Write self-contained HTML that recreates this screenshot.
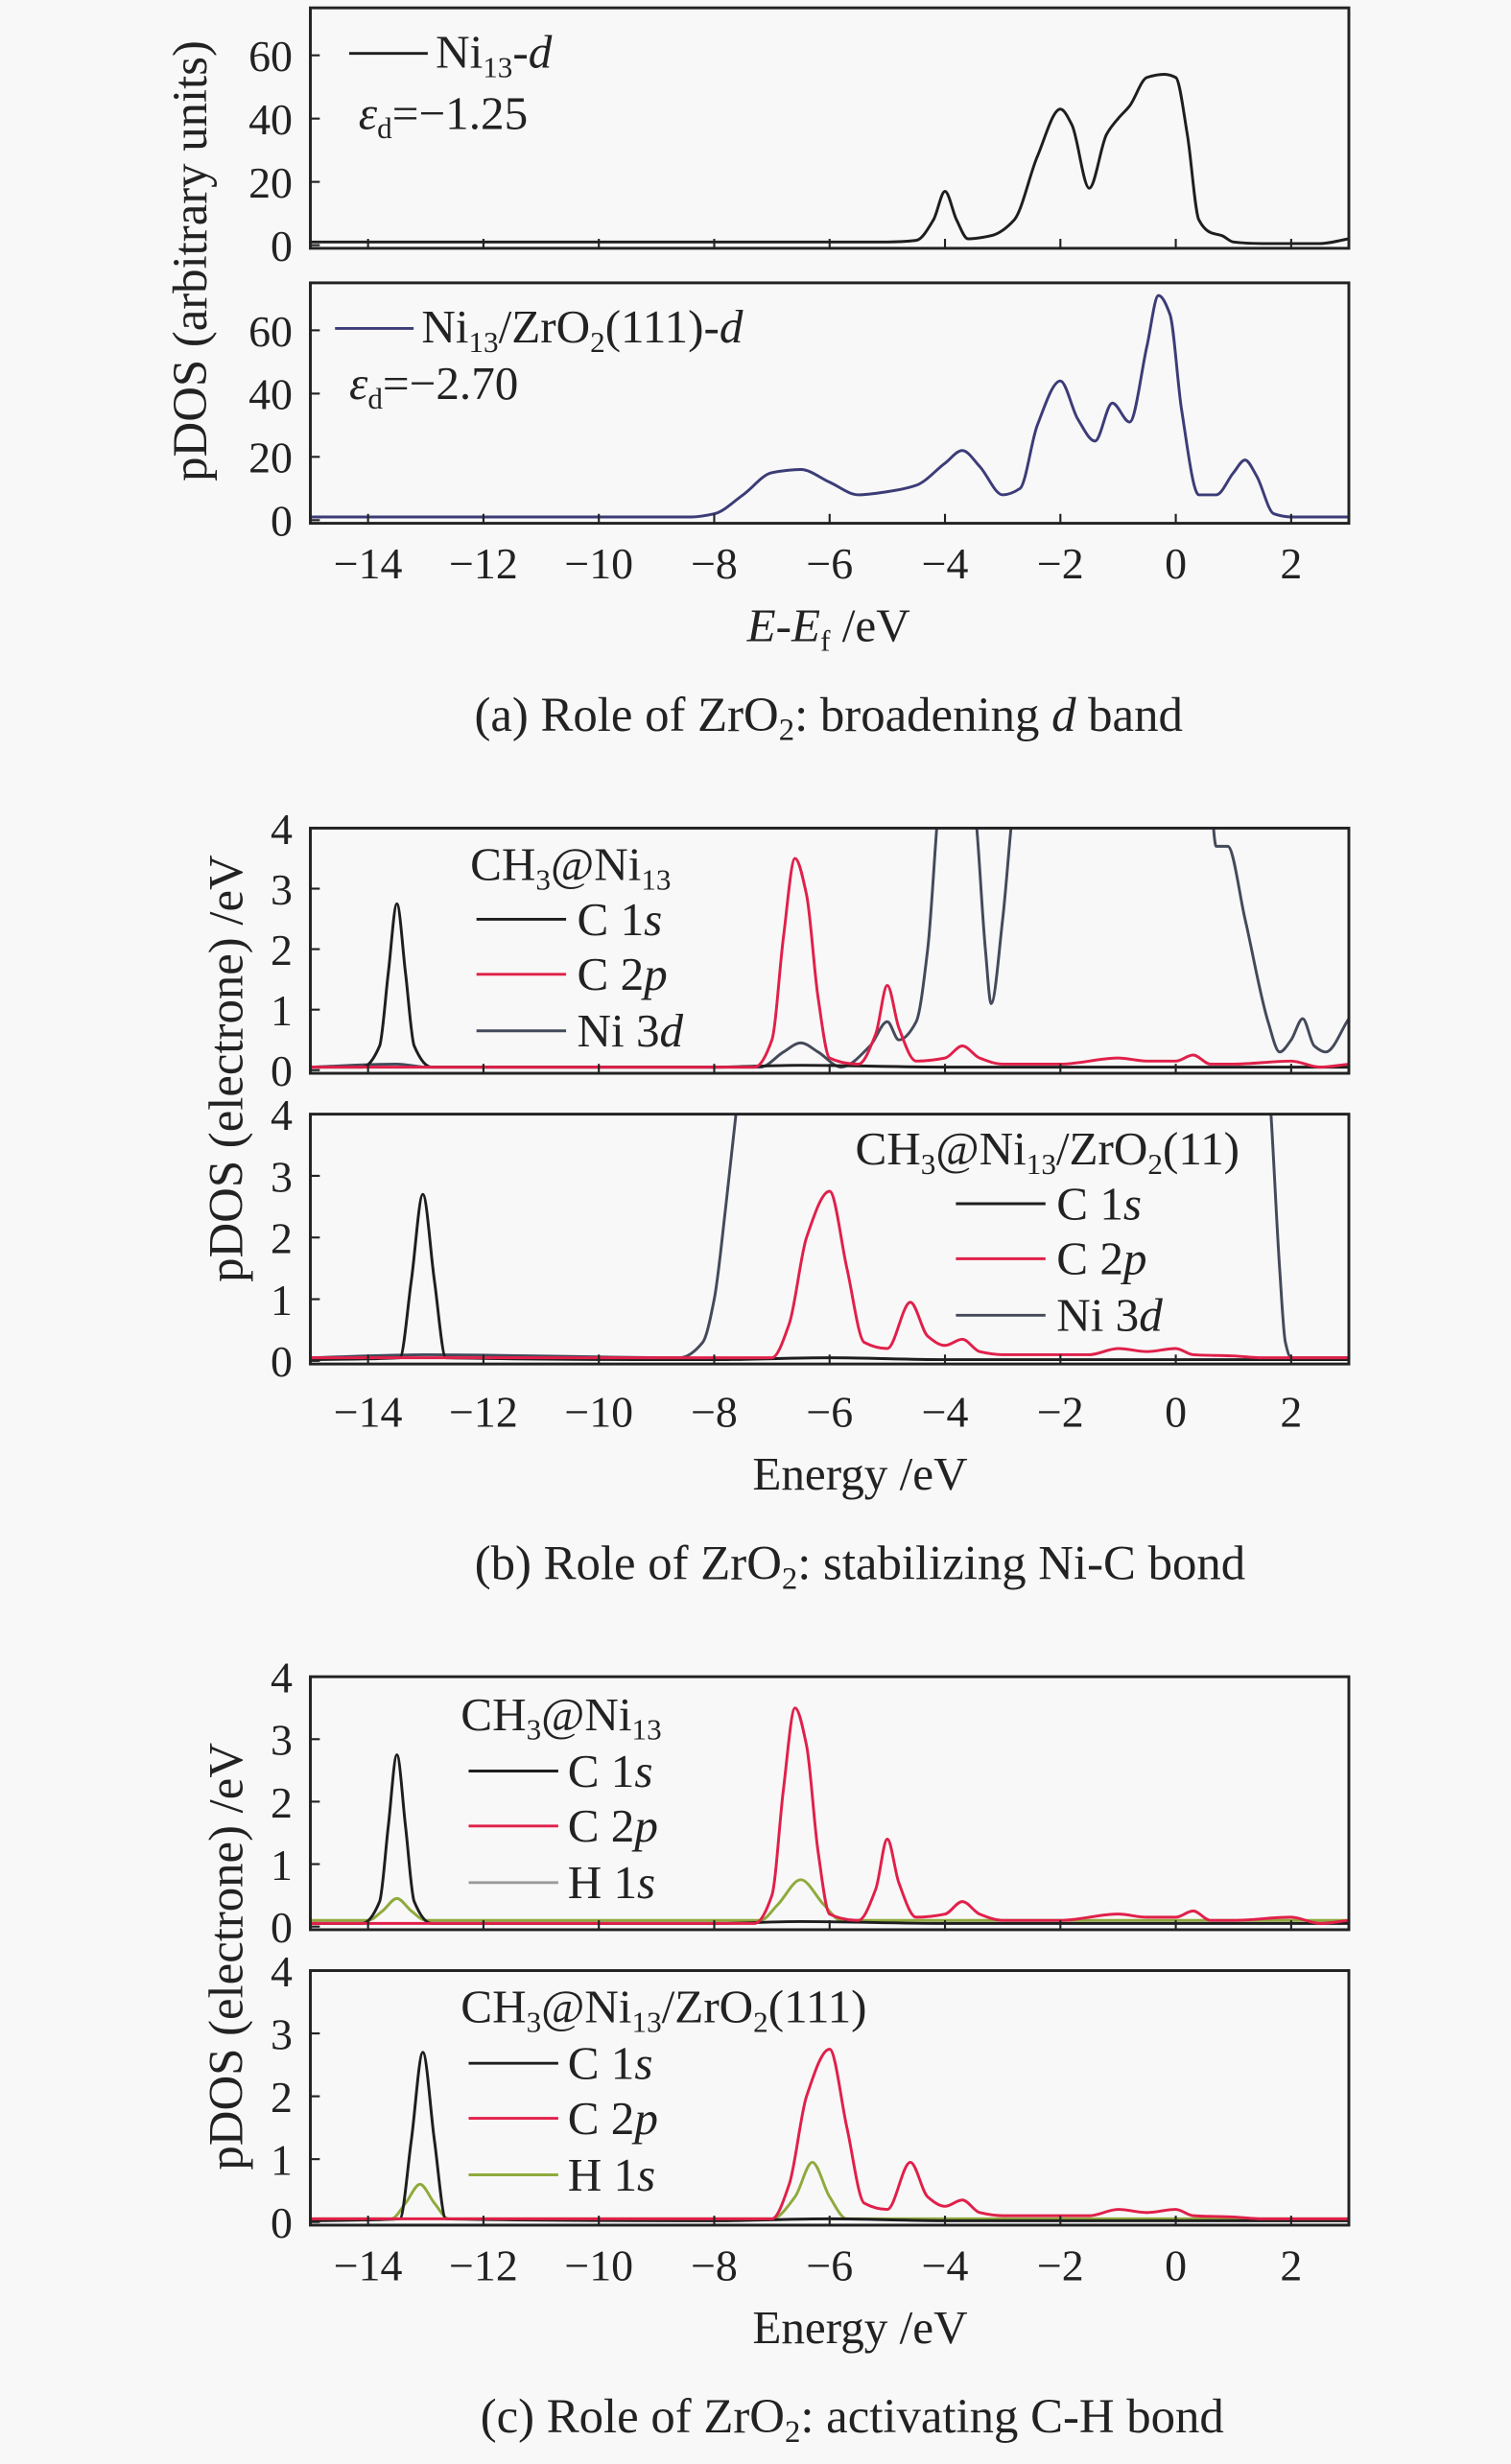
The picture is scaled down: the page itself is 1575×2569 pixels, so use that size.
<!DOCTYPE html>
<html><head><meta charset="utf-8"><style>
html,body{margin:0;padding:0;background:#f8f8f8}
svg{display:block}
text{font-family:"Liberation Serif",serif;fill:#222}
</style></head><body>
<svg id="fig" width="1575" height="2569" viewBox="0 0 961 1568" xmlns="http://www.w3.org/2000/svg">
<rect x="0" y="0" width="961" height="1568" fill="#f8f8f8"/>
<g id="root"></g>
</svg>
<script>
// ---------- data ----------
const xTicks = [-14,-12,-10,-8,-6,-4,-2,0,2];
const yTicksA = [0,20,40,60];
const yTicksB = [0,1,2,3,4];
// Panel a1: Ni13-d
const a1X = [-15,-6,-5,-4.5,-4.2,-4.0,-3.8,-3.6,-3.2,-2.8,-2.4,-2.0,-1.8,-1.5,-1.2,-1.0,-0.8,-0.5,-0.2,0,0.2,0.4,0.6,0.8,1.0,1.5,2.5,3];
const a1Y = [1,1,1,1.5,8,17,8,2,3,8,28,43,38,18,35,40,44,53,54,53,35,8,4,3,1,0.5,0.5,2];
// Panel a2: Ni13/ZrO2(111)-d
const a2X = [-15,-8.4,-8,-7.5,-7,-6.5,-6,-5.5,-5,-4.5,-4,-3.7,-3.4,-3,-2.7,-2.4,-2,-1.7,-1.4,-1.1,-0.8,-0.5,-0.3,-0.1,0.1,0.4,0.7,1.0,1.2,1.4,1.7,2.0,3];
const a2Y = [1,1,2,8,15,16,12,8,9,11,18,22,17,8,10,30,44,32,25,37,31,55,71,65,35,8,8,15,19,14,2,1,1];
// Panel b1
const b1C1sX = [-15,-14.1,-13.8,-13.65,-13.5,-13.35,-13.2,-12.9,-8,-6.5,-4,3];
const b1C1sY = [0.05,0.05,0.4,1.6,2.75,1.6,0.4,0.05,0.05,0.08,0.05,0.05];
const b1C2pX = [-15,-7.3,-7,-6.8,-6.6,-6.4,-6.2,-6,-5.5,-5.2,-5.0,-4.8,-4.5,-4,-3.7,-3.4,-3,-2,-1,-0.5,0,0.3,0.6,1,2,2.5,3];
const b1C2pY = [0.05,0.05,0.5,2.2,3.5,2.9,1.2,0.2,0.1,0.6,1.4,0.7,0.15,0.2,0.4,0.2,0.1,0.1,0.2,0.15,0.15,0.25,0.1,0.1,0.15,0.05,0.1];
const b1NiX = [-15,-13.5,-13,-7.2,-6.8,-6.5,-6.2,-5.8,-5.3,-5.0,-4.8,-4.5,-4.3,-4.1,-3.9,-3.5,-3.3,-3.2,-3.0,-2.8,-2.5,0.5,0.7,0.9,1.2,1.6,1.8,2.0,2.2,2.4,2.6,3.0];
const b1NiY = [0.05,0.1,0.05,0.05,0.3,0.45,0.3,0.05,0.4,0.8,0.5,0.8,2.0,4.5,6,4.5,2,1.1,2.5,4.5,6,6,3.7,3.7,2.5,0.8,0.3,0.5,0.85,0.4,0.3,0.85];
// Panel b2
const b2C1sX = [-15,-13.45,-13.25,-13.05,-12.85,-12.65,-8,-6,-4,3];
const b2C1sY = [0.02,0.05,1.3,2.7,1.3,0.05,0.02,0.05,0.02,0.02];
const b2C2pX = [-15,-7,-6.7,-6.4,-6.0,-5.7,-5.4,-5.0,-4.6,-4.3,-4,-3.7,-3.4,-3,-2,-1.5,-1,-0.5,0,0.3,1,1.5,2,3];
const b2C2pY = [0.05,0.05,0.6,2.0,2.75,1.5,0.3,0.2,0.95,0.4,0.25,0.35,0.15,0.1,0.1,0.1,0.2,0.15,0.2,0.1,0.08,0.05,0.05,0.05];
const b2NiX = [-15,-13,-8.6,-8.2,-8,-7.8,-7.6,-7.4,1.5,1.65,1.8,1.9,2.0,3];
const b2NiY = [0.05,0.1,0.05,0.3,1.0,2.5,4.2,6,6,4,1.5,0.3,0.05,0.05];
// Panel c1
const c1C1sX = b1C1sX, c1C1sY = b1C1sY;
const c1C2pX = b1C2pX, c1C2pY = b1C2pY;
const c1H1sX = [-15,-14,-13.75,-13.5,-13.25,-13,-7.2,-6.9,-6.5,-6.1,-5.8,-4,3];
const c1H1sY = [0.1,0.1,0.25,0.45,0.25,0.1,0.1,0.35,0.75,0.35,0.1,0.1,0.1];
// Panel c2
const c2C1sX = b2C1sX, c2C1sY = b2C1sY;
const c2C2pX = b2C2pX, c2C2pY = b2C2pY;
const c2H1sX = [-15,-13.6,-13.35,-13.1,-12.85,-12.6,-7,-6.6,-6.3,-6.0,-5.7,-4,3];
const c2H1sY = [0.05,0.05,0.3,0.6,0.3,0.05,0.05,0.4,0.95,0.4,0.05,0.05,0.05];

// ---------- drawing ----------
const NS='http://www.w3.org/2000/svg';
const root=document.getElementById('root');
const X0=197.3, X1=858, XMIN=-15, XMAX=3;
function xs(v){return X0+(v-XMIN)/(XMAX-XMIN)*(X1-X0);}
function mk(tag,attrs,parent){const e=document.createElementNS(NS,tag);for(const k in attrs)e.setAttribute(k,attrs[k]);(parent||root).appendChild(e);return e;}

function monotonePath(pts){
  const n=pts.length;
  const dx=[],m=[];
  for(let i=0;i<n-1;i++){dx[i]=pts[i+1][0]-pts[i][0];m[i]=(pts[i+1][1]-pts[i][1])/dx[i];}
  const t=[];
  t[0]=m[0];t[n-1]=m[n-2];
  for(let i=1;i<n-1;i++){
    if(m[i-1]*m[i]<=0)t[i]=0;
    else{const w1=2*dx[i]+dx[i-1],w2=dx[i]+2*dx[i-1];t[i]=(w1+w2)/(w1/m[i-1]+w2/m[i]);}
  }
  let d='M'+pts[0][0].toFixed(2)+','+pts[0][1].toFixed(2);
  for(let i=0;i<n-1;i++){
    const h=dx[i]/3;
    d+=' C'+(pts[i][0]+h).toFixed(2)+','+(pts[i][1]+t[i]*h).toFixed(2)+' '+(pts[i+1][0]-h).toFixed(2)+','+(pts[i+1][1]-t[i+1]*h).toFixed(2)+' '+pts[i+1][0].toFixed(2)+','+pts[i+1][1].toFixed(2);
  }
  return d;
}

function panel(name,top,bot,ymax,yTicks,series){
  const g=mk('g',{});
  
  
  const y0=bot-2, ytop=top;
  const ys=v=>y0-(v/ymax)*(y0-ytop);
  const cid='clip-'+name;
  const cp=mk('clipPath',{id:cid},g);mk('rect',{x:X0,y:top,width:X1-X0,height:bot-top},cp);
  series.forEach(s=>{
    const pts=s.x.map((v,i)=>[xs(v),ys(s.y[i])]);
    const p=mk('path',{d:monotonePath(pts),fill:'none',stroke:s.color,'stroke-width':1.8,'clip-path':'url(#'+cid+')'},g);
    
    
  });
  const fr=mk('rect',{x:X0,y:top,width:X1-X0,height:bot-top,fill:'none',stroke:'#222','stroke-width':1.8},g);
  
  
  xTicks.forEach(t=>{mk('line',{x1:xs(t),x2:xs(t),y1:bot,y2:bot-6,stroke:'#222','stroke-width':1.3},g);});
  yTicks.forEach(t=>{
    mk('line',{x1:X0,x2:X0+6,y1:ys(t),y2:ys(t),stroke:'#222','stroke-width':1.3},g);
    const tx=mk('text',{x:186,y:ys(t)+10,'text-anchor':'end','font-size':28},g);
    tx.textContent=t;
    
    
  });
  return g;
}
function xLabels(y){
  xTicks.forEach(t=>{
    const tx=mk('text',{x:xs(t),y:y,'text-anchor':'middle','font-size':28});
    tx.textContent=(t<0?'\u2212'+(-t):t);
    
    
  });
}
function html(markup){const g=mk('g',{});g.innerHTML=markup;return g;}

const K='#1e1e1e', R='#e0204a', BL='#3c3c78', HG='#8faa3c', HGC1='#9a9a9a', NI='#444a5a';
panel('panel-a1',5,158,75,yTicksA,[{name:'ni13-d-line',x:a1X,y:a1Y,color:K}]);
panel('panel-a2',180,333,75,yTicksA,[{name:'ni13-zro2-d-line',x:a2X,y:a2Y,color:BL}]);
xLabels(368);
panel('panel-b1',527,683,4,yTicksB,[{name:'b1-ni3d-line',x:b1NiX,y:b1NiY,color:NI},{name:'b1-c1s-line',x:b1C1sX,y:b1C1sY,color:K},{name:'b1-c2p-line',x:b1C2pX,y:b1C2pY,color:R}]);
panel('panel-b2',709,868,4,yTicksB,[{name:'b2-ni3d-line',x:b2NiX,y:b2NiY,color:NI},{name:'b2-c1s-line',x:b2C1sX,y:b2C1sY,color:K},{name:'b2-c2p-line',x:b2C2pX,y:b2C2pY,color:R}]);
xLabels(908);
panel('panel-c1',1067,1228,4,yTicksB,[{name:'c1-h1s-line',x:c1H1sX,y:c1H1sY,color:HG},{name:'c1-c1s-line',x:c1C1sX,y:c1C1sY,color:K},{name:'c1-c2p-line',x:c1C2pX,y:c1C2pY,color:R}]);
panel('panel-c2',1254,1416,4,yTicksB,[{name:'c2-h1s-line',x:c2H1sX,y:c2H1sY,color:HG},{name:'c2-c1s-line',x:c2C1sX,y:c2C1sY,color:K},{name:'c2-c2p-line',x:c2C2pX,y:c2C2pY,color:R}]);
xLabels(1451);

html(`
<text transform="translate(131,166) rotate(-90)" text-anchor="middle" font-size="31">pDOS (arbitrary units)</text>
<text transform="translate(154,680) rotate(-90)" text-anchor="middle" font-size="31">pDOS (electrone) /eV</text>
<text transform="translate(154,1245) rotate(-90)" text-anchor="middle" font-size="31">pDOS (electrone) /eV</text>

<line x1="222" x2="272" y1="34" y2="34" stroke="${K}" stroke-width="1.8"/>
<text x="277" y="43" font-size="30">Ni<tspan font-size="19" dy="6">13</tspan><tspan dy="-6">-</tspan><tspan font-style="italic">d</tspan></text>
<text x="228" y="82" font-size="30"><tspan font-style="italic">ε</tspan><tspan font-size="19" dy="6">d</tspan><tspan dy="-6">=−1.25</tspan></text>
<line x1="213" x2="263" y1="209" y2="209" stroke="${BL}" stroke-width="1.8"/>
<text x="268" y="218" font-size="30">Ni<tspan font-size="19" dy="6">13</tspan><tspan dy="-6">/ZrO</tspan><tspan font-size="19" dy="6">2</tspan><tspan dy="-6">(111)-</tspan><tspan font-style="italic">d</tspan></text>
<text x="222" y="254" font-size="30"><tspan font-style="italic">ε</tspan><tspan font-size="19" dy="6">d</tspan><tspan dy="-6">=−2.70</tspan></text>
<text x="527" y="408" text-anchor="middle" font-size="30"><tspan font-style="italic">E</tspan>-<tspan font-style="italic">E</tspan><tspan font-size="19" dy="6">f</tspan><tspan dy="-6"> /eV</tspan></text>
<text x="527" y="465" text-anchor="middle" font-size="31">(a) Role of ZrO<tspan font-size="20" dy="6">2</tspan><tspan dy="-6">: broadening </tspan><tspan font-style="italic">d</tspan> band</text>

<text x="299" y="560" font-size="30">CH<tspan font-size="19" dy="6">3</tspan><tspan dy="-6">@Ni</tspan><tspan font-size="19" dy="6">13</tspan></text>
<line x1="303" x2="360" y1="585" y2="585" stroke="${K}" stroke-width="1.8"/><text x="367" y="595" font-size="30">C 1<tspan font-style="italic">s</tspan></text>
<line x1="303" x2="360" y1="620" y2="620" stroke="${R}" stroke-width="1.8"/><text x="367" y="630" font-size="30">C 2<tspan font-style="italic">p</tspan></text>
<line x1="303" x2="360" y1="656" y2="656" stroke="${NI}" stroke-width="1.8"/><text x="367" y="666" font-size="30">Ni 3<tspan font-style="italic">d</tspan></text>

<text x="544" y="741" font-size="30">CH<tspan font-size="19" dy="6">3</tspan><tspan dy="-6">@Ni</tspan><tspan font-size="19" dy="6">13</tspan><tspan dy="-6">/ZrO</tspan><tspan font-size="19" dy="6">2</tspan><tspan dy="-6">(11)</tspan></text>
<line x1="608" x2="665" y1="766" y2="766" stroke="${K}" stroke-width="1.8"/><text x="672" y="776" font-size="30">C 1<tspan font-style="italic">s</tspan></text>
<line x1="608" x2="665" y1="801" y2="801" stroke="${R}" stroke-width="1.8"/><text x="672" y="811" font-size="30">C 2<tspan font-style="italic">p</tspan></text>
<line x1="608" x2="665" y1="837" y2="837" stroke="${NI}" stroke-width="1.8"/><text x="672" y="847" font-size="30">Ni 3<tspan font-style="italic">d</tspan></text>
<text x="547" y="948" text-anchor="middle" font-size="30">Energy /eV</text>
<text x="547" y="1005" text-anchor="middle" font-size="31">(b) Role of ZrO<tspan font-size="20" dy="6">2</tspan><tspan dy="-6">: stabilizing Ni-C bond</tspan></text>

<text x="293" y="1101" font-size="30">CH<tspan font-size="19" dy="6">3</tspan><tspan dy="-6">@Ni</tspan><tspan font-size="19" dy="6">13</tspan></text>
<line x1="298" x2="355" y1="1127" y2="1127" stroke="${K}" stroke-width="1.8"/><text x="361" y="1137" font-size="30">C 1<tspan font-style="italic">s</tspan></text>
<line x1="298" x2="355" y1="1162" y2="1162" stroke="${R}" stroke-width="1.8"/><text x="361" y="1172" font-size="30">C 2<tspan font-style="italic">p</tspan></text>
<line x1="298" x2="355" y1="1198" y2="1198" stroke="${HGC1}" stroke-width="1.8"/><text x="361" y="1208" font-size="30">H 1<tspan font-style="italic">s</tspan></text>

<text x="293" y="1287" font-size="30">CH<tspan font-size="19" dy="6">3</tspan><tspan dy="-6">@Ni</tspan><tspan font-size="19" dy="6">13</tspan><tspan dy="-6">/ZrO</tspan><tspan font-size="19" dy="6">2</tspan><tspan dy="-6">(111)</tspan></text>
<line x1="298" x2="355" y1="1313" y2="1313" stroke="${K}" stroke-width="1.8"/><text x="361" y="1323" font-size="30">C 1<tspan font-style="italic">s</tspan></text>
<line x1="298" x2="355" y1="1348" y2="1348" stroke="${R}" stroke-width="1.8"/><text x="361" y="1358" font-size="30">C 2<tspan font-style="italic">p</tspan></text>
<line x1="298" x2="355" y1="1384" y2="1384" stroke="${HG}" stroke-width="1.8"/><text x="361" y="1394" font-size="30">H 1<tspan font-style="italic">s</tspan></text>
<text x="547" y="1491" text-anchor="middle" font-size="30">Energy /eV</text>
<text x="542" y="1548" text-anchor="middle" font-size="31">(c) Role of ZrO<tspan font-size="20" dy="6">2</tspan><tspan dy="-6">: activating C-H bond</tspan></text>
`);
</script>
</body></html>
